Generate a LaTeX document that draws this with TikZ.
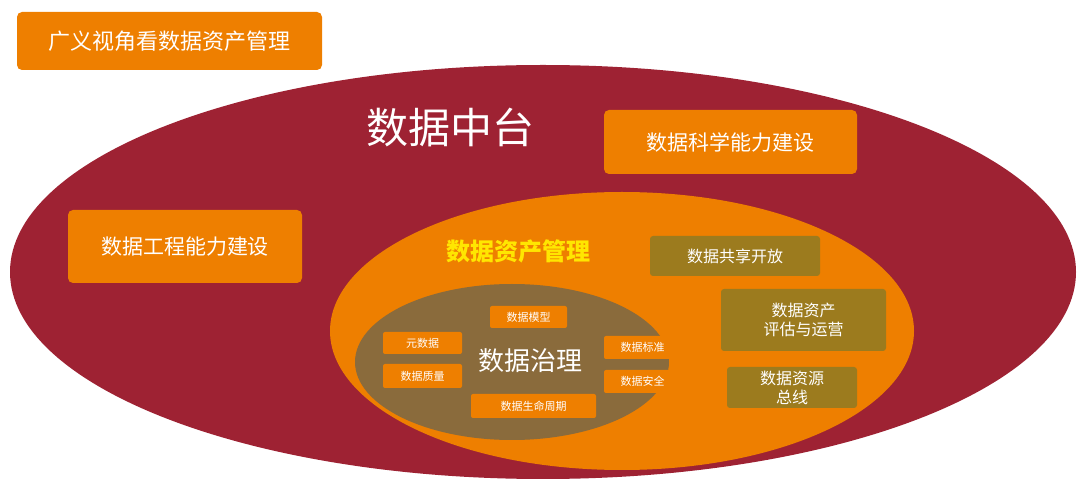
\documentclass[tikz,border=0pt]{standalone}
\usepackage{fontspec}
\setmainfont{Noto Sans CJK SC}
\definecolor{dred}{HTML}{9E2233}
\definecolor{org}{HTML}{EE7F00}
\definecolor{olive}{HTML}{9C7B1E}
\definecolor{brn}{HTML}{8A6B3C}
\definecolor{yel}{HTML}{FFE600}
\tikzset{
 box/.style={fill=org,rounded corners=5pt,text=white,inner sep=0pt},
 obox/.style={fill=olive,rounded corners=3pt,text=white,inner sep=0pt,align=center,font=\fontsize{16}{19}\selectfont},
 sbox/.style={fill=org,rounded corners=2pt,text=white,inner sep=0pt,font=\fontsize{11}{13}\selectfont}
}
\begin{document}
\begin{tikzpicture}[x=1pt,y=-1pt]
\useasboundingbox (0,0) rectangle (1080,494);
\fill[dred] (543,272) ellipse [x radius=533,y radius=207];
\node[box,minimum width=305,minimum height=58,font=\fontsize{22}{26}\selectfont] (t) at (169.5,41) {广义视角看数据资产管理};
\node[text=white,font=\fontsize{42}{48}\selectfont] (zt) at (450,128) {数据中台};
\node[box,minimum width=253,minimum height=64,font=\fontsize{21}{25}\selectfont] (sci) at (730.5,142) {数据科学能力建设};
\node[box,minimum width=234,minimum height=73,font=\fontsize{21}{25}\selectfont] (eng) at (185,246.5) {数据工程能力建设};
\fill[org] (622,331) ellipse [x radius=292,y radius=139];
\node[text=yel,font=\bfseries\fontsize{24}{28}\selectfont] (am) at (518,251) {数据资产管理};
\node[obox,minimum width=170,minimum height=40] (share) at (735,256) {数据共享开放};
\node[obox,minimum width=165,minimum height=62] (eval) at (803.5,320) {数据资产\\评估与运营};
\node[obox,minimum width=130,minimum height=41] (bus) at (792,387.5) {数据资源\\总线};
\fill[brn] (512,362) ellipse [x radius=157,y radius=78];
\node[text=white,font=\fontsize{26}{30}\selectfont] (gov) at (530,361) {数据治理};
\node[sbox,minimum width=79,minimum height=22] (meta) at (422.5,343) {元数据};
\node[sbox,minimum width=79,minimum height=24] (qual) at (422.5,376) {数据质量};
\node[sbox,minimum width=77,minimum height=22] (model) at (528.5,317) {数据模型};
\node[sbox,minimum width=77,minimum height=23] (std) at (642.5,347.5) {数据标准};
\node[sbox,minimum width=77,minimum height=23] (sec) at (642.5,381.5) {数据安全};
\node[sbox,minimum width=125,minimum height=24] (life) at (533.5,406) {数据生命周期};
\end{tikzpicture}
\end{document}
